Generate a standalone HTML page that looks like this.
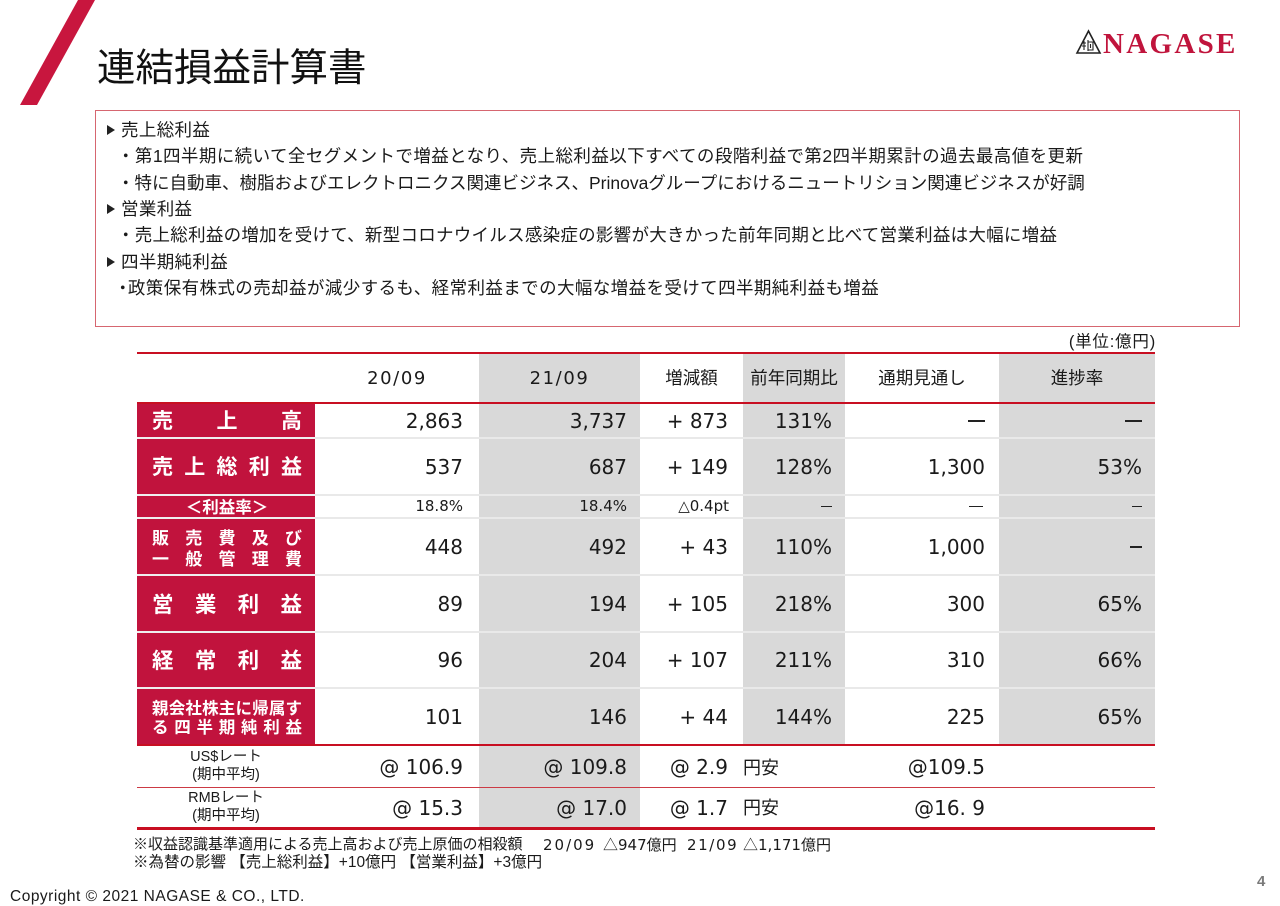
<!DOCTYPE html>
<html><head><meta charset="utf-8">
<style>
*{margin:0;padding:0;box-sizing:border-box}
body{width:1280px;height:905px;position:relative;background:#fff;font-family:"Liberation Sans","Noto Sans CJK JP",sans-serif;color:#222;overflow:hidden}
.a{position:absolute;white-space:nowrap}
.c{position:absolute;display:flex;align-items:center;justify-content:flex-end;white-space:nowrap;font-family:"DejaVu Sans","Noto Sans CJK JP",sans-serif;font-size:20px;line-height:1;color:#1a1a1a}
.h{position:absolute;display:flex;align-items:center;justify-content:center;white-space:nowrap;font-family:"Liberation Sans","Noto Sans CJK JP",sans-serif;font-size:17.5px;line-height:1;color:#1a1a1a;top:354px;height:49px}
.g{position:absolute;background:#d9d9d9}
.ln{position:absolute;left:137px;width:1018px}
.lab{position:absolute;left:137px;width:178px;padding:0 13px 0 15px;color:#fff;font-weight:bold;font-family:"Noto Sans CJK JP",sans-serif;display:flex;flex-direction:column;justify-content:center}
.lab .r{display:flex;justify-content:space-between;line-height:1}
.d{display:inline-block;background:#222}
.tx{position:absolute;white-space:nowrap;font-size:17.5px;line-height:26px;letter-spacing:0.35px;color:#1a1a1a}
.tri{display:inline-block;width:0;height:0;border-left:8px solid #222;border-top:5px solid transparent;border-bottom:5px solid transparent;vertical-align:1px}
.nt{position:absolute;white-space:nowrap;font-size:15px;line-height:18px;color:#1a1a1a;top:836px}
.dj{font-family:"DejaVu Sans",sans-serif}
</style></head><body>

<!-- slash -->
<svg class="a" style="left:0;top:0" width="110" height="110"><polygon points="78,0 95,0 37,105 20,105" fill="#c8163e"/></svg>

<!-- title -->
<div class="a" style="left:97px;top:46px;font-size:38.5px;line-height:38px;font-family:'Noto Sans CJK JP',sans-serif;color:#111">連結損益計算書</div>

<!-- logo -->
<svg class="a" style="left:1075px;top:28px" width="28" height="28">
<polygon points="2,25 13.5,3 25,25" fill="none" stroke="#222" stroke-width="1.6"/>
<path d="M9,13 L9,22 M7,15 L11,15 M7,18 L11,18 M13,12 L13,23 M13,14 L18,14 L18,22 L13,22 M15.5,16 L15.5,20" stroke="#222" stroke-width="1.1" fill="none"/>
</svg>
<div class="a" style="left:1103px;top:29.5px;font-family:'Liberation Serif',serif;font-weight:bold;font-size:29px;line-height:29px;letter-spacing:2.3px;color:#c0143c">NAGASE</div>

<!-- box -->
<div class="a" style="left:95px;top:110px;width:1145px;height:217px;border:1.5px solid #d66670"></div>

<div class="tx" style="left:107px;top:117px"><span class="tri"></span><span style="margin-left:6px">売上総利益</span></div>
<div class="tx" style="left:117px;top:143.3px;letter-spacing:0.42px">・第1四半期に続いて全セグメントで増益となり、売上総利益以下すべての段階利益で第2四半期累計の過去最高値を更新</div>
<div class="tx" style="left:117px;top:169.6px;letter-spacing:0">・特に自動車、樹脂およびエレクトロニクス関連ビジネス、Prinovaグループにおけるニュートリション関連ビジネスが好調</div>
<div class="tx" style="left:107px;top:196px"><span class="tri"></span><span style="margin-left:6px">営業利益</span></div>
<div class="tx" style="left:117px;top:222.3px;letter-spacing:0.27px">・売上総利益の増加を受けて、新型コロナウイルス感染症の影響が大きかった前年同期と比べて営業利益は大幅に増益</div>
<div class="tx" style="left:107px;top:248.6px"><span class="tri"></span><span style="margin-left:6px">四半期純利益</span></div>
<div class="tx" style="left:114px;top:275px;letter-spacing:0.4px"><span style="margin-right:-4px">・</span>政策保有株式の売却益が減少するも、経常利益までの大幅な増益を受けて四半期純利益も増益</div>

<!-- unit -->
<div class="a" style="right:124px;top:332px;font-size:16.5px;line-height:20px;letter-spacing:0.8px;color:#1a1a1a">(単位:億円)</div>

<!-- gray columns -->
<div class="g" style="left:479px;top:353px;width:161px;height:475px"></div>
<div class="g" style="left:743px;top:353px;width:102px;height:392px"></div>
<div class="g" style="left:999px;top:353px;width:156px;height:392px"></div>

<!-- red label column -->
<div class="a" style="left:137px;top:403px;width:178px;height:342px;background:#c1133d"></div>

<!-- row separators -->
<div class="ln" style="top:437px;height:2px;background:#e9e9e9"></div>
<div class="ln" style="top:494px;height:2px;background:#e9e9e9"></div>
<div class="ln" style="top:517px;height:2px;background:#e9e9e9"></div>
<div class="ln" style="top:574px;height:2px;background:#e9e9e9"></div>
<div class="ln" style="top:631px;height:2px;background:#e9e9e9"></div>
<div class="ln" style="top:687px;height:2px;background:#e9e9e9"></div>
<div class="a" style="left:137px;top:437px;width:178px;height:2px;background:rgba(255,255,255,0.3)"></div>
<div class="a" style="left:137px;top:494px;width:178px;height:2px;background:rgba(255,255,255,0.3)"></div>
<div class="a" style="left:137px;top:517px;width:178px;height:2px;background:rgba(255,255,255,0.3)"></div>
<div class="a" style="left:137px;top:574px;width:178px;height:2px;background:rgba(255,255,255,0.3)"></div>
<div class="a" style="left:137px;top:631px;width:178px;height:2px;background:rgba(255,255,255,0.3)"></div>
<div class="a" style="left:137px;top:687px;width:178px;height:2px;background:rgba(255,255,255,0.3)"></div>

<!-- red lines -->
<div class="ln" style="top:352px;height:2px;background:#c80f22"></div>
<div class="ln" style="top:402px;height:2px;background:#c80f22"></div>
<div class="ln" style="top:744px;height:1.6px;background:#c80f22"></div>
<div class="ln" style="top:787px;height:1px;background:#cc3a44"></div>
<div class="ln" style="top:827px;height:2.6px;background:#c80f22"></div>

<!-- header -->
<div class="h" style="left:315px;width:164px;font-family:'DejaVu Sans',sans-serif;font-size:18px;letter-spacing:1.6px">20/09</div>
<div class="h" style="left:479px;width:161px;font-family:'DejaVu Sans',sans-serif;font-size:18px;letter-spacing:1.6px">21/09</div>
<div class="h" style="left:640px;width:103px">増減額</div>
<div class="h" style="left:743px;width:102px">前年同期比</div>
<div class="h" style="left:845px;width:154px">通期見通し</div>
<div class="h" style="left:999px;width:156px">進捗率</div>

<!-- labels -->
<div class="lab" style="top:403px;height:35px;font-size:21px"><div class="r"><span>売</span><span>上</span><span>高</span></div></div>
<div class="lab" style="top:438px;height:57px;font-size:21px"><div class="r"><span>売</span><span>上</span><span>総</span><span>利</span><span>益</span></div></div>
<div class="lab" style="top:495px;height:23px;font-size:16.5px;align-items:center"><div class="r" style="justify-content:center">＜利益率＞</div></div>
<div class="lab" style="top:518px;height:57px;font-size:17px"><div class="r" style="margin-bottom:4px"><span>販</span><span>売</span><span>費</span><span>及</span><span>び</span></div><div class="r"><span>一</span><span>般</span><span>管</span><span>理</span><span>費</span></div></div>
<div class="lab" style="top:575px;height:57px;font-size:21.5px"><div class="r"><span>営</span><span>業</span><span>利</span><span>益</span></div></div>
<div class="lab" style="top:632px;height:56px;font-size:21.5px"><div class="r"><span>経</span><span>常</span><span>利</span><span>益</span></div></div>
<div class="lab" style="top:688px;height:57px;font-size:16.5px"><div class="r" style="margin-bottom:3px"><span>親</span><span>会</span><span>社</span><span>株</span><span>主</span><span>に</span><span>帰</span><span>属</span><span>す</span></div><div class="r"><span>る</span><span>四</span><span>半</span><span>期</span><span>純</span><span>利</span><span>益</span></div></div>

<!-- R1 売上高 -->
<div class="c" style="left:315px;width:164px;padding-right:16px;top:403px;height:35px">2,863</div>
<div class="c" style="left:479px;width:161px;padding-right:13px;top:403px;height:35px">3,737</div>
<div class="c" style="left:640px;width:103px;padding-right:15px;top:403px;height:35px">+ 873</div>
<div class="c" style="left:743px;width:102px;padding-right:13px;top:403px;height:35px">131%</div>
<div class="c" style="left:845px;width:154px;padding-right:14px;top:403px;height:35px"><span class="d" style="width:17px;height:2px"></span></div>
<div class="c" style="left:999px;width:156px;padding-right:13px;top:403px;height:35px"><span class="d" style="width:17px;height:2px"></span></div>

<!-- R2 -->
<div class="c" style="left:315px;width:164px;padding-right:16px;top:438px;height:57px">537</div>
<div class="c" style="left:479px;width:161px;padding-right:13px;top:438px;height:57px">687</div>
<div class="c" style="left:640px;width:103px;padding-right:15px;top:438px;height:57px">+ 149</div>
<div class="c" style="left:743px;width:102px;padding-right:13px;top:438px;height:57px">128%</div>
<div class="c" style="left:845px;width:154px;padding-right:14px;top:438px;height:57px">1,300</div>
<div class="c" style="left:999px;width:156px;padding-right:13px;top:438px;height:57px">53%</div>

<!-- R3 -->
<div class="c" style="left:315px;width:164px;padding-right:16px;top:495px;height:23px;font-size:15px">18.8%</div>
<div class="c" style="left:479px;width:161px;padding-right:13px;top:495px;height:23px;font-size:15px">18.4%</div>
<div class="c" style="left:640px;width:103px;padding-right:14px;top:495px;height:23px;font-size:15px">△0.4pt</div>
<div class="c" style="left:743px;width:102px;padding-right:13px;top:495px;height:23px"><span class="d" style="width:11px;height:1.5px"></span></div>
<div class="c" style="left:845px;width:154px;padding-right:16px;top:495px;height:23px"><span class="d" style="width:14px;height:1.5px"></span></div>
<div class="c" style="left:999px;width:156px;padding-right:13px;top:495px;height:23px"><span class="d" style="width:10px;height:1.5px"></span></div>

<!-- R4 -->
<div class="c" style="left:315px;width:164px;padding-right:16px;top:518px;height:57px">448</div>
<div class="c" style="left:479px;width:161px;padding-right:13px;top:518px;height:57px">492</div>
<div class="c" style="left:640px;width:103px;padding-right:15px;top:518px;height:57px">+ 43</div>
<div class="c" style="left:743px;width:102px;padding-right:13px;top:518px;height:57px">110%</div>
<div class="c" style="left:845px;width:154px;padding-right:14px;top:518px;height:57px">1,000</div>
<div class="c" style="left:999px;width:156px;padding-right:13px;top:518px;height:57px"><span class="d" style="width:12px;height:2px"></span></div>

<!-- R5 -->
<div class="c" style="left:315px;width:164px;padding-right:16px;top:575px;height:57px">89</div>
<div class="c" style="left:479px;width:161px;padding-right:13px;top:575px;height:57px">194</div>
<div class="c" style="left:640px;width:103px;padding-right:15px;top:575px;height:57px">+ 105</div>
<div class="c" style="left:743px;width:102px;padding-right:13px;top:575px;height:57px">218%</div>
<div class="c" style="left:845px;width:154px;padding-right:14px;top:575px;height:57px">300</div>
<div class="c" style="left:999px;width:156px;padding-right:13px;top:575px;height:57px">65%</div>

<!-- R6 -->
<div class="c" style="left:315px;width:164px;padding-right:16px;top:632px;height:56px">96</div>
<div class="c" style="left:479px;width:161px;padding-right:13px;top:632px;height:56px">204</div>
<div class="c" style="left:640px;width:103px;padding-right:15px;top:632px;height:56px">+ 107</div>
<div class="c" style="left:743px;width:102px;padding-right:13px;top:632px;height:56px">211%</div>
<div class="c" style="left:845px;width:154px;padding-right:14px;top:632px;height:56px">310</div>
<div class="c" style="left:999px;width:156px;padding-right:13px;top:632px;height:56px">66%</div>

<!-- R7 -->
<div class="c" style="left:315px;width:164px;padding-right:16px;top:688px;height:57px">101</div>
<div class="c" style="left:479px;width:161px;padding-right:13px;top:688px;height:57px">146</div>
<div class="c" style="left:640px;width:103px;padding-right:15px;top:688px;height:57px">+ 44</div>
<div class="c" style="left:743px;width:102px;padding-right:13px;top:688px;height:57px">144%</div>
<div class="c" style="left:845px;width:154px;padding-right:14px;top:688px;height:57px">225</div>
<div class="c" style="left:999px;width:156px;padding-right:13px;top:688px;height:57px">65%</div>

<!-- R8 US$ -->
<div class="a" style="left:137px;width:178px;top:748px;text-align:center;font-size:14.5px;line-height:18px;color:#1a1a1a">US$レート<br>(期中平均)</div>
<div class="c" style="left:315px;width:164px;padding-right:16px;top:746px;height:42px">@ 106.9</div>
<div class="c" style="left:479px;width:161px;padding-right:13px;top:746px;height:42px">@ 109.8</div>
<div class="c" style="left:640px;width:103px;padding-right:15px;top:746px;height:42px">@ 2.9</div>
<div class="a" style="left:743px;top:757px;font-size:18px;line-height:20px;font-family:'Noto Sans CJK JP',sans-serif;color:#1a1a1a">円安</div>
<div class="c" style="left:845px;width:154px;padding-right:14px;top:746px;height:42px">@109.5</div>

<!-- R9 RMB -->
<div class="a" style="left:137px;width:178px;top:789px;text-align:center;font-size:14.5px;line-height:18px;color:#1a1a1a">RMBレート<br>(期中平均)</div>
<div class="c" style="left:315px;width:164px;padding-right:16px;top:787px;height:41px">@ 15.3</div>
<div class="c" style="left:479px;width:161px;padding-right:13px;top:787px;height:41px">@ 17.0</div>
<div class="c" style="left:640px;width:103px;padding-right:15px;top:787px;height:41px">@ 1.7</div>
<div class="a" style="left:743px;top:797px;font-size:18px;line-height:20px;font-family:'Noto Sans CJK JP',sans-serif;color:#1a1a1a">円安</div>
<div class="c" style="left:845px;width:154px;padding-right:14px;top:787px;height:41px">@16. 9</div>

<!-- notes -->
<div class="nt" style="left:133px">※収益認識基準適用による売上高および売上原価の相殺額</div>
<div class="nt dj" style="left:543px;letter-spacing:2px">20/09</div>
<div class="nt" style="left:603px">△<span class="dj">947</span>億円</div>
<div class="nt dj" style="left:687px;letter-spacing:1.6px">21/09</div>
<div class="nt" style="left:743px">△<span class="dj">1,171</span>億円</div>
<div class="a" style="left:133px;top:854px;font-size:15.5px;line-height:18px;color:#1a1a1a">※為替の影響 【売上総利益】+10億円 【営業利益】+3億円</div>

<!-- footer -->
<div class="a" style="left:10px;top:888px;font-size:15.5px;line-height:18px;letter-spacing:0.5px;color:#1a1a1a">Copyright © 2021 NAGASE &amp; CO., LTD.</div>
<div class="a" style="left:1257px;top:874px;font-size:15px;line-height:16px;font-weight:bold;color:#7a7a7a">4</div>

</body></html>
